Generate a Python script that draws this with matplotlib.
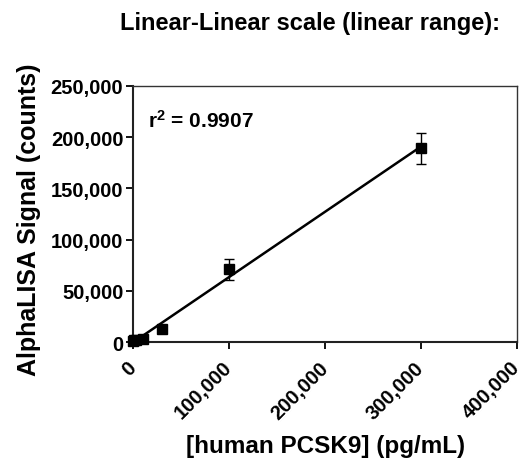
import numpy as np
import matplotlib
matplotlib.use("Agg")
import matplotlib.pyplot as plt
from matplotlib.ticker import FuncFormatter

plt.rcParams['font.family'] = ['Liberation Sans', 'DejaVu Sans']
plt.rcParams['font.weight'] = 'bold'
plt.rcParams['mathtext.fontset'] = 'custom'
plt.rcParams['mathtext.bf'] = 'Liberation Sans:bold'
plt.rcParams['mathtext.rm'] = 'Liberation Sans:bold'

# data
conc = [300, 1000, 3000, 10000, 30000, 100000, 300000]
signal = [800, 1500, 2200, 3200, 13000, 71000, 189000]
err = [200, 300, 400, 600, 1500, 10000, 15000]
xticks = [0, 100000, 200000, 300000, 400000]
yticks = [0, 50000, 100000, 150000, 200000, 250000]
r2_text = r'$\mathbf{r^{2}}$ = 0.9907'
title = 'Linear-Linear scale (linear range):'
xlabel = '[human PCSK9] (pg/mL)'
ylabel = 'AlphaLISA Signal (counts)'

fig = plt.figure(figsize=(5.26, 4.6), dpi=100)
ax = fig.add_axes([0.2529, 0.2543, 0.7301, 0.5567])

slope, intercept = np.polyfit(conc, signal, 1)
xf = np.array([min(conc), max(conc)])
ax.plot(xf, slope * xf + intercept, color='black', lw=1.8, zorder=2)

ax.errorbar(conc, signal, yerr=err, fmt='s', color='black', ms=7.5,
            ecolor='black', elinewidth=1.0, capsize=3.6, capthick=1.0,
            zorder=3, clip_on=False)

ax.set_xlim(0, 400000)
ax.set_ylim(0, 250000)
ax.set_xticks(xticks)
ax.set_yticks(yticks)
fmt = FuncFormatter(lambda v, p: f"{int(v):,}")
ax.xaxis.set_major_formatter(fmt)
ax.yaxis.set_major_formatter(fmt)
ax.tick_params(axis='both', direction='out', length=5, width=1.3, labelsize=14.5)
ax.tick_params(axis='y', pad=2)
ax.tick_params(axis='x', pad=11)
for lab in ax.get_xticklabels():
    lab.set_rotation(45)
    lab.set_ha('right')
    lab.set_va('center')
    lab.set_rotation_mode('anchor')
    lab.set_fontweight('bold')
for lab in ax.get_yticklabels():
    lab.set_fontweight('bold')

for s in ['left', 'bottom']:
    ax.spines[s].set_linewidth(1.5)
    ax.spines[s].set_color('#222222')
for s in ['top', 'right']:
    ax.spines[s].set_linewidth(1.0)
    ax.spines[s].set_color('#333333')

fig.text(0.618, 0.015, xlabel, ha='center', va='baseline', fontsize=17.5, fontweight='bold')
fig.text(0.055, 0.522, ylabel, ha='center', va='center', rotation=90,
         fontsize=18, fontweight='bold')
fig.text(0.589, 0.935, title, ha='center', va='baseline', fontsize=17, fontweight='bold')
ax.text(0.04, 0.84, r2_text, transform=ax.transAxes, fontsize=15, fontweight='bold',
        ha='left', va='baseline')

fig.savefig('out.png', dpi=100)
